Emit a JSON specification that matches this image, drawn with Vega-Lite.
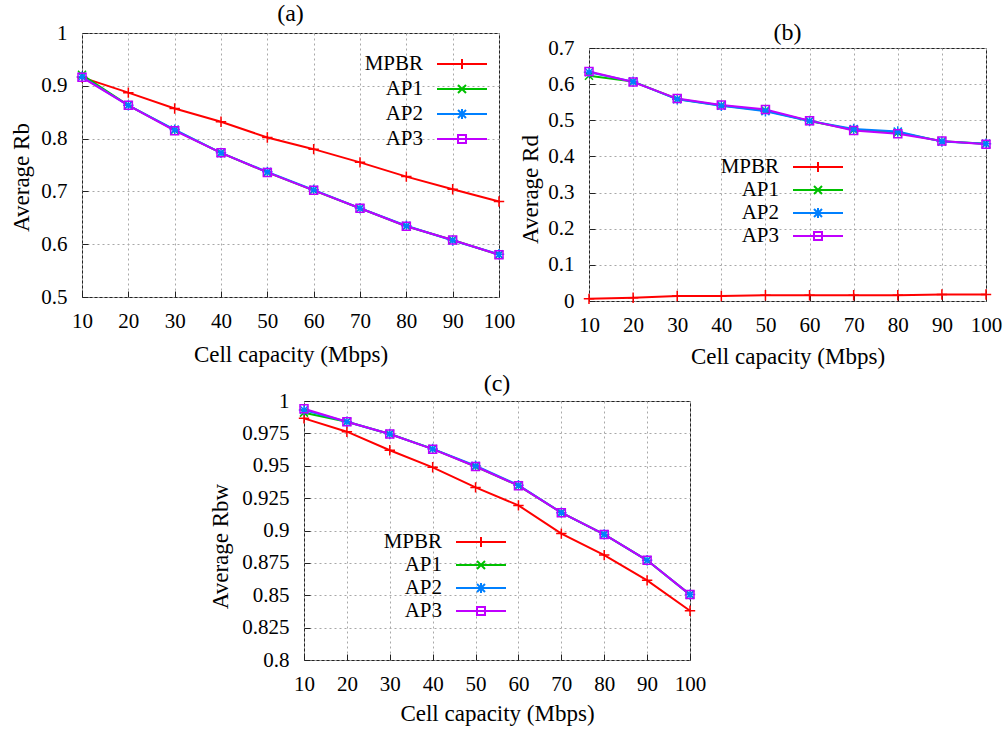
{
  "$schema": "https://vega.github.io/schema/vega-lite/v6.json",
  "padding": {"left": 10, "top": 1, "right": 0, "bottom": 0},
  "background": "white",
  "datasets": {
    "a": [
      {"capacity": 10, "scheme": "MPBR", "value": 0.916}, {"capacity": 20, "scheme": "MPBR", "value": 0.887}, {"capacity": 30, "scheme": "MPBR", "value": 0.857}, {"capacity": 40, "scheme": "MPBR", "value": 0.832}, {"capacity": 50, "scheme": "MPBR", "value": 0.802}, {"capacity": 60, "scheme": "MPBR", "value": 0.780}, {"capacity": 70, "scheme": "MPBR", "value": 0.755}, {"capacity": 80, "scheme": "MPBR", "value": 0.728}, {"capacity": 90, "scheme": "MPBR", "value": 0.704}, {"capacity": 100, "scheme": "MPBR", "value": 0.681},
      {"capacity": 10, "scheme": "AP1", "value": 0.921}, {"capacity": 20, "scheme": "AP1", "value": 0.863}, {"capacity": 30, "scheme": "AP1", "value": 0.816}, {"capacity": 40, "scheme": "AP1", "value": 0.773}, {"capacity": 50, "scheme": "AP1", "value": 0.736}, {"capacity": 60, "scheme": "AP1", "value": 0.702}, {"capacity": 70, "scheme": "AP1", "value": 0.668}, {"capacity": 80, "scheme": "AP1", "value": 0.634}, {"capacity": 90, "scheme": "AP1", "value": 0.608}, {"capacity": 100, "scheme": "AP1", "value": 0.580},
      {"capacity": 10, "scheme": "AP2", "value": 0.917}, {"capacity": 20, "scheme": "AP2", "value": 0.863}, {"capacity": 30, "scheme": "AP2", "value": 0.817}, {"capacity": 40, "scheme": "AP2", "value": 0.773}, {"capacity": 50, "scheme": "AP2", "value": 0.737}, {"capacity": 60, "scheme": "AP2", "value": 0.703}, {"capacity": 70, "scheme": "AP2", "value": 0.668}, {"capacity": 80, "scheme": "AP2", "value": 0.635}, {"capacity": 90, "scheme": "AP2", "value": 0.607}, {"capacity": 100, "scheme": "AP2", "value": 0.581},
      {"capacity": 10, "scheme": "AP3", "value": 0.916}, {"capacity": 20, "scheme": "AP3", "value": 0.863}, {"capacity": 30, "scheme": "AP3", "value": 0.815}, {"capacity": 40, "scheme": "AP3", "value": 0.773}, {"capacity": 50, "scheme": "AP3", "value": 0.736}, {"capacity": 60, "scheme": "AP3", "value": 0.702}, {"capacity": 70, "scheme": "AP3", "value": 0.668}, {"capacity": 80, "scheme": "AP3", "value": 0.634}, {"capacity": 90, "scheme": "AP3", "value": 0.608}, {"capacity": 100, "scheme": "AP3", "value": 0.580}
    ],
    "b": [
      {"capacity": 10, "scheme": "MPBR", "value": 0.006}, {"capacity": 20, "scheme": "MPBR", "value": 0.009}, {"capacity": 30, "scheme": "MPBR", "value": 0.014}, {"capacity": 40, "scheme": "MPBR", "value": 0.014}, {"capacity": 50, "scheme": "MPBR", "value": 0.016}, {"capacity": 60, "scheme": "MPBR", "value": 0.016}, {"capacity": 70, "scheme": "MPBR", "value": 0.016}, {"capacity": 80, "scheme": "MPBR", "value": 0.016}, {"capacity": 90, "scheme": "MPBR", "value": 0.018}, {"capacity": 100, "scheme": "MPBR", "value": 0.018},
      {"capacity": 10, "scheme": "AP1", "value": 0.623}, {"capacity": 20, "scheme": "AP1", "value": 0.607}, {"capacity": 30, "scheme": "AP1", "value": 0.559}, {"capacity": 40, "scheme": "AP1", "value": 0.541}, {"capacity": 50, "scheme": "AP1", "value": 0.527}, {"capacity": 60, "scheme": "AP1", "value": 0.498}, {"capacity": 70, "scheme": "AP1", "value": 0.474}, {"capacity": 80, "scheme": "AP1", "value": 0.466}, {"capacity": 90, "scheme": "AP1", "value": 0.442}, {"capacity": 100, "scheme": "AP1", "value": 0.435},
      {"capacity": 10, "scheme": "AP2", "value": 0.633}, {"capacity": 20, "scheme": "AP2", "value": 0.607}, {"capacity": 30, "scheme": "AP2", "value": 0.558}, {"capacity": 40, "scheme": "AP2", "value": 0.540}, {"capacity": 50, "scheme": "AP2", "value": 0.525}, {"capacity": 60, "scheme": "AP2", "value": 0.498}, {"capacity": 70, "scheme": "AP2", "value": 0.476}, {"capacity": 80, "scheme": "AP2", "value": 0.469}, {"capacity": 90, "scheme": "AP2", "value": 0.441}, {"capacity": 100, "scheme": "AP2", "value": 0.435},
      {"capacity": 10, "scheme": "AP3", "value": 0.635}, {"capacity": 20, "scheme": "AP3", "value": 0.606}, {"capacity": 30, "scheme": "AP3", "value": 0.560}, {"capacity": 40, "scheme": "AP3", "value": 0.542}, {"capacity": 50, "scheme": "AP3", "value": 0.530}, {"capacity": 60, "scheme": "AP3", "value": 0.499}, {"capacity": 70, "scheme": "AP3", "value": 0.472}, {"capacity": 80, "scheme": "AP3", "value": 0.463}, {"capacity": 90, "scheme": "AP3", "value": 0.443}, {"capacity": 100, "scheme": "AP3", "value": 0.434}
    ],
    "c": [
      {"capacity": 10, "scheme": "MPBR", "value": 0.9866}, {"capacity": 20, "scheme": "MPBR", "value": 0.9763}, {"capacity": 30, "scheme": "MPBR", "value": 0.962}, {"capacity": 40, "scheme": "MPBR", "value": 0.9488}, {"capacity": 50, "scheme": "MPBR", "value": 0.9333}, {"capacity": 60, "scheme": "MPBR", "value": 0.9194}, {"capacity": 70, "scheme": "MPBR", "value": 0.8976}, {"capacity": 80, "scheme": "MPBR", "value": 0.881}, {"capacity": 90, "scheme": "MPBR", "value": 0.8615}, {"capacity": 100, "scheme": "MPBR", "value": 0.838},
      {"capacity": 10, "scheme": "AP1", "value": 0.991}, {"capacity": 20, "scheme": "AP1", "value": 0.984}, {"capacity": 30, "scheme": "AP1", "value": 0.9745}, {"capacity": 40, "scheme": "AP1", "value": 0.963}, {"capacity": 50, "scheme": "AP1", "value": 0.9494}, {"capacity": 60, "scheme": "AP1", "value": 0.9346}, {"capacity": 70, "scheme": "AP1", "value": 0.9138}, {"capacity": 80, "scheme": "AP1", "value": 0.897}, {"capacity": 90, "scheme": "AP1", "value": 0.877}, {"capacity": 100, "scheme": "AP1", "value": 0.8505},
      {"capacity": 10, "scheme": "AP2", "value": 0.993}, {"capacity": 20, "scheme": "AP2", "value": 0.984}, {"capacity": 30, "scheme": "AP2", "value": 0.9745}, {"capacity": 40, "scheme": "AP2", "value": 0.963}, {"capacity": 50, "scheme": "AP2", "value": 0.950}, {"capacity": 60, "scheme": "AP2", "value": 0.935}, {"capacity": 70, "scheme": "AP2", "value": 0.9138}, {"capacity": 80, "scheme": "AP2", "value": 0.897}, {"capacity": 90, "scheme": "AP2", "value": 0.877}, {"capacity": 100, "scheme": "AP2", "value": 0.8505},
      {"capacity": 10, "scheme": "AP3", "value": 0.994}, {"capacity": 20, "scheme": "AP3", "value": 0.984}, {"capacity": 30, "scheme": "AP3", "value": 0.9745}, {"capacity": 40, "scheme": "AP3", "value": 0.9628}, {"capacity": 50, "scheme": "AP3", "value": 0.9494}, {"capacity": 60, "scheme": "AP3", "value": 0.9346}, {"capacity": 70, "scheme": "AP3", "value": 0.9138}, {"capacity": 80, "scheme": "AP3", "value": 0.897}, {"capacity": 90, "scheme": "AP3", "value": 0.877}, {"capacity": 100, "scheme": "AP3", "value": 0.8505}
    ]
  },
  "config": {
    "font": "Liberation Serif",
    "view": {"stroke": "#222222", "strokeWidth": 1},
    "title": {"font": "Liberation Serif", "fontSize": 24, "fontWeight": "normal", "color": "#000000"},
    "axis": {
      "labelFont": "Liberation Serif", "labelFontSize": 21, "labelColor": "#000000",
      "titleFont": "Liberation Serif", "titleFontSize": 23, "titleFontWeight": "normal", "titleColor": "#000000",
      "grid": true, "gridColor": "#a8a8a8", "gridDash": [2, 3], "gridWidth": 1,
      "domain": false, "ticks": true, "tickColor": "#222222", "tickSize": -6, "tickWidth": 1,
      "labelPadding": 21, "labelFlush": false, "labelOverlap": false, "labelBound": false
    },
    "axisX": {"labelPadding": 19},
    "legend": {
      "orient": "none", "title": null, "padding": 0,
      "labelFont": "Liberation Serif", "labelFontSize": 21, "labelColor": "#000000",
      "labelAlign": "right", "labelOffset": -50, "labelLimit": 0,
      "rowPadding": 2, "symbolSize": 400, "symbolStrokeWidth": 2, "symbolOpacity": 1, "symbolFillColor": "transparent"
    }
  },
  "resolve": {"scale": {"color": "independent", "shape": "independent"}, "legend": {"color": "independent", "shape": "independent"}},
  "vconcat": [
    {
      "resolve": {"scale": {"color": "independent", "shape": "independent"}, "legend": {"color": "independent", "shape": "independent"}},
      "hconcat": [
        {
          "width": 417, "height": 264,
          "title": {"text": "(a)", "offset": -4},
          "data": {"name": "a"},
          "encoding": {
            "x": {"field": "capacity", "type": "quantitative", "scale": {"domain": [10, 100], "nice": false, "zero": false},
                  "axis": {"title": "Cell capacity (Mbps)", "values": [10, 20, 30, 40, 50, 60, 70, 80, 90, 100], "titlePadding": 12}},
            "y": {"field": "value", "type": "quantitative", "scale": {"domain": [0.5, 1], "nice": false, "zero": false},
                  "axis": {"title": "Average Rb", "values": [0.5, 0.6, 0.7, 0.8, 0.9, 1], "format": ".3~f", "titlePadding": 7, "titleY": 144}},
            "color": {"field": "scheme", "type": "nominal", "sort": ["MPBR", "AP1", "AP2", "AP3"],
                      "scale": {"domain": ["MPBR", "AP1", "AP2", "AP3"], "range": ["#ff0000", "#00c000", "#0080ff", "#c000ff"]},
                      "legend": {"legendX": 369, "legendY": 20, "rowPadding": 4}}
          },
          "layer": [
            {"mark": {"type": "line", "strokeWidth": 2}},
            {"mark": {"type": "point", "filled": false, "size": 400, "strokeWidth": 2, "opacity": 0},
             "encoding": {"shape": {"field": "scheme", "type": "nominal",
                                    "scale": {"domain": ["MPBR", "AP1", "AP2", "AP3"], "range": ["M-2.5,0H2.5M0,-0.5V0.5", "M-2.5,0H2.5M-0.4,-0.4L0.4,0.4M-0.4,0.4L0.4,-0.4", "M-2.5,0H2.5M-0.4,-0.4L0.4,0.4M-0.4,0.4L0.4,-0.4M0,-0.5V0.5", "M-2.5,0H2.5M-0.4,-0.4H0.4V0.4H-0.4Z"]}}}},
            {"transform": [{"filter": "datum.scheme === 'MPBR'"}], "mark": {"type": "point", "shape": "M-1.3,0H1.3M0,-1.3V1.3", "filled": false, "size": 64, "strokeWidth": 1.5, "opacity": 1}},
            {"transform": [{"filter": "datum.scheme === 'AP1'"}], "mark": {"type": "point", "shape": "M-1,-1L1,1M-1,1L1,-1", "filled": false, "size": 64, "strokeWidth": 1.5, "opacity": 1}},
            {"transform": [{"filter": "datum.scheme === 'AP2'"}], "mark": {"type": "point", "shape": "M-1,-1L1,1M-1,1L1,-1M0,-1.3V1.3M-1.3,0H1.3", "filled": false, "size": 64, "strokeWidth": 1.5, "opacity": 1}},
            {"transform": [{"filter": "datum.scheme === 'AP3'"}], "mark": {"type": "point", "shape": "M-1,-1H1V1H-1Z", "filled": false, "size": 64, "strokeWidth": 1.5, "opacity": 1}}
          ]
        },
        {
          "resolve": {"scale": {"color": "independent", "shape": "independent"}, "legend": {"color": "independent", "shape": "independent"}},
          "vconcat": [
            {"width": 1, "height": 1, "data": {"values": []}, "mark": "point", "view": {"stroke": null}},
            {
              "width": 397, "height": 253,
              "title": {"text": "(b)", "offset": -8},
              "data": {"name": "b"},
              "encoding": {
                "x": {"field": "capacity", "type": "quantitative", "scale": {"domain": [10, 100], "nice": false, "zero": false},
                      "axis": {"title": "Cell capacity (Mbps)", "values": [10, 20, 30, 40, 50, 60, 70, 80, 90, 100], "titlePadding": 10}},
                "y": {"field": "value", "type": "quantitative", "scale": {"domain": [0, 0.7], "nice": false, "zero": false},
                      "axis": {"title": "Average Rd", "values": [0, 0.1, 0.2, 0.3, 0.4, 0.5, 0.6, 0.7], "format": ".3~f", "titlePadding": 5, "titleY": 141}},
                "color": {"field": "scheme", "type": "nominal", "sort": ["MPBR", "AP1", "AP2", "AP3"],
                          "scale": {"domain": ["MPBR", "AP1", "AP2", "AP3"], "range": ["#ff0000", "#00c000", "#0080ff", "#c000ff"]},
                          "legend": {"legendX": 218, "legendY": 108}}
              },
              "layer": [
                {"mark": {"type": "line", "strokeWidth": 2}},
                {"mark": {"type": "point", "filled": false, "size": 400, "strokeWidth": 2, "opacity": 0},
                 "encoding": {"shape": {"field": "scheme", "type": "nominal",
                                        "scale": {"domain": ["MPBR", "AP1", "AP2", "AP3"], "range": ["M-2.5,0H2.5M0,-0.5V0.5", "M-2.5,0H2.5M-0.4,-0.4L0.4,0.4M-0.4,0.4L0.4,-0.4", "M-2.5,0H2.5M-0.4,-0.4L0.4,0.4M-0.4,0.4L0.4,-0.4M0,-0.5V0.5", "M-2.5,0H2.5M-0.4,-0.4H0.4V0.4H-0.4Z"]}}}},
                {"transform": [{"filter": "datum.scheme === 'MPBR'"}], "mark": {"type": "point", "shape": "M-1.3,0H1.3M0,-1.3V1.3", "filled": false, "size": 64, "strokeWidth": 1.5, "opacity": 1}},
                {"transform": [{"filter": "datum.scheme === 'AP1'"}], "mark": {"type": "point", "shape": "M-1,-1L1,1M-1,1L1,-1", "filled": false, "size": 64, "strokeWidth": 1.5, "opacity": 1}},
                {"transform": [{"filter": "datum.scheme === 'AP2'"}], "mark": {"type": "point", "shape": "M-1,-1L1,1M-1,1L1,-1M0,-1.3V1.3M-1.3,0H1.3", "filled": false, "size": 64, "strokeWidth": 1.5, "opacity": 1}},
                {"transform": [{"filter": "datum.scheme === 'AP3'"}], "mark": {"type": "point", "shape": "M-1,-1H1V1H-1Z", "filled": false, "size": 64, "strokeWidth": 1.5, "opacity": 1}}
              ]
            }
          ],
          "spacing": -14
        }
      ],
      "spacing": -6
    },
    {
      "resolve": {"scale": {"color": "independent", "shape": "independent"}, "legend": {"color": "independent", "shape": "independent"}},
      "hconcat": [
        {"width": 127, "height": 10, "data": {"values": []}, "mark": "point", "view": {"stroke": null}},
        {
          "width": 386, "height": 259,
          "title": {"text": "(c)", "offset": -6},
          "data": {"name": "c"},
          "encoding": {
            "x": {"field": "capacity", "type": "quantitative", "scale": {"domain": [10, 100], "nice": false, "zero": false},
                  "axis": {"title": "Cell capacity (Mbps)", "values": [10, 20, 30, 40, 50, 60, 70, 80, 90, 100], "titlePadding": 8}},
            "y": {"field": "value", "type": "quantitative", "scale": {"domain": [0.8, 1], "nice": false, "zero": false},
                  "axis": {"title": "Average Rbw", "values": [0.8, 0.825, 0.85, 0.875, 0.9, 0.925, 0.95, 0.975, 1], "format": ".3~f", "titlePadding": 9, "titleY": 145}},
            "color": {"field": "scheme", "type": "nominal", "sort": ["MPBR", "AP1", "AP2", "AP3"],
                      "scale": {"domain": ["MPBR", "AP1", "AP2", "AP3"], "range": ["#ff0000", "#00c000", "#0080ff", "#c000ff"]},
                      "legend": {"legendX": 166, "legendY": 130}}
          },
          "layer": [
            {"mark": {"type": "line", "strokeWidth": 2}},
            {"mark": {"type": "point", "filled": false, "size": 400, "strokeWidth": 2, "opacity": 0},
             "encoding": {"shape": {"field": "scheme", "type": "nominal",
                                    "scale": {"domain": ["MPBR", "AP1", "AP2", "AP3"], "range": ["M-2.5,0H2.5M0,-0.5V0.5", "M-2.5,0H2.5M-0.4,-0.4L0.4,0.4M-0.4,0.4L0.4,-0.4", "M-2.5,0H2.5M-0.4,-0.4L0.4,0.4M-0.4,0.4L0.4,-0.4M0,-0.5V0.5", "M-2.5,0H2.5M-0.4,-0.4H0.4V0.4H-0.4Z"]}}}},
            {"transform": [{"filter": "datum.scheme === 'MPBR'"}], "mark": {"type": "point", "shape": "M-1.3,0H1.3M0,-1.3V1.3", "filled": false, "size": 64, "strokeWidth": 1.5, "opacity": 1}},
            {"transform": [{"filter": "datum.scheme === 'AP1'"}], "mark": {"type": "point", "shape": "M-1,-1L1,1M-1,1L1,-1", "filled": false, "size": 64, "strokeWidth": 1.5, "opacity": 1}},
            {"transform": [{"filter": "datum.scheme === 'AP2'"}], "mark": {"type": "point", "shape": "M-1,-1L1,1M-1,1L1,-1M0,-1.3V1.3M-1.3,0H1.3", "filled": false, "size": 64, "strokeWidth": 1.5, "opacity": 1}},
            {"transform": [{"filter": "datum.scheme === 'AP3'"}], "mark": {"type": "point", "shape": "M-1,-1H1V1H-1Z", "filled": false, "size": 64, "strokeWidth": 1.5, "opacity": 1}}
          ]
        }
      ],
      "spacing": 0
    }
  ],
  "spacing": 2
}
